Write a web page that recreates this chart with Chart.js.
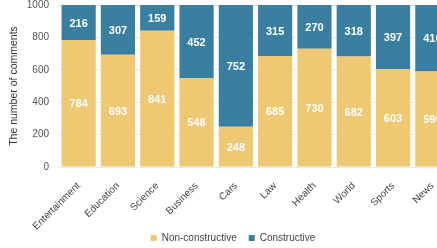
<!DOCTYPE html>
<html>
<head>
<meta charset="utf-8">
<script src="https://cdn.jsdelivr.net/npm/chart.js@4"></script>
<style>
  html, body { margin: 0; padding: 0; background: #fff; overflow: hidden; }
  #wrap { width: 452px; height: 248px; position: relative; }
</style>
</head>
<body>
<div id="wrap"><canvas id="commentChart"></canvas></div>
<script>
const categories = ['Entertainment', 'Education', 'Science', 'Business', 'Cars', 'Law', 'Health', 'World', 'Sports', 'News'];
const nonConstructive = [784, 693, 841, 548, 248, 685, 730, 682, 603, 590];
const constructive = [216, 307, 159, 452, 752, 315, 270, 318, 397, 410];
const yTicks = [0, 200, 400, 600, 800, 1000];

const fontFamily = '"Liberation Sans", Arial, sans-serif';

// draw the numbers inside each bar segment
const segmentLabels = {
    id: 'segmentLabels',
    afterDatasetsDraw(chart) {
        const ctx = chart.ctx;
        ctx.save();
        ctx.fillStyle = '#fff';
        ctx.font = 'bold 11px ' + fontFamily;
        ctx.textAlign = 'center';
        ctx.textBaseline = 'middle';
        chart.data.datasets.forEach((ds, i) => {
            chart.getDatasetMeta(i).data.forEach((bar, j) => {
                const mid = (bar.y + bar.base) / 2;
                ctx.fillText(ds.data[j], bar.x, mid + 1);
            });
        });
        ctx.restore();
    }
};

// nudge the legend a little to the right, like the original
const legendShift = {
    id: 'legendShift',
    afterLayout(chart) {
        chart.legend.left += 7;
        chart.legend.right += 7;
    }
};

const ctx = document.getElementById('commentChart').getContext('2d');
const commentChart = new Chart(ctx, {
    type: 'bar',
    data: {
        labels: categories,
        datasets: [{
            label: 'Non-constructive',
            data: nonConstructive,
            backgroundColor: '#eec872',
            borderWidth: 0,
            categoryPercentage: 0.87,
            barPercentage: 1
        }, {
            label: 'Constructive',
            data: constructive,
            backgroundColor: '#3a7f9f',
            borderWidth: 0,
            categoryPercentage: 0.87,
            barPercentage: 1
        }]
    },
    options: {
        responsive: true,
        maintainAspectRatio: false,
        animation: false,
        layout: { padding: { top: 0, left: 0, right: 0, bottom: -5 } },
        plugins: {
            tooltip: { enabled: false },
            legend: {
                position: 'bottom',
                labels: {
                    boxWidth: 6,
                    boxHeight: 6,
                    padding: 12,
                    color: '#444',
                    font: { size: 10, family: fontFamily }
                }
            }
        },
        scales: {
            x: {
                stacked: true,
                grid: { display: false },
                border: { display: false },
                afterFit: axis => {
                    axis.height = 54;
                    // let the rotated labels run past the axis box instead of being cut
                    axis._computeLabelArea = () => undefined;
                },
                ticks: {
                    color: '#444',
                    padding: 5,
                    maxRotation: 45,
                    minRotation: 45,
                    font: { size: 10, family: fontFamily }
                }
            },
            y: {
                stacked: true,
                min: 0,
                max: 1000,
                afterBuildTicks: axis => { axis.ticks = yTicks.map(v => ({ value: v })); },
                afterFit: axis => { axis.width = 59; axis.paddingTop = 5; axis.paddingBottom = 0; },
                grid: { color: '#e8e8e8', drawTicks: false },
                border: { display: false },
                ticks: {
                    color: '#555',
                    padding: 10,
                    callback: v => String(v),
                    font: { size: 10, family: fontFamily }
                },
                title: {
                    display: true,
                    text: 'The number of comments',
                    color: '#333',
                    padding: { top: 8, bottom: 0 },
                    font: { size: 10.5, family: fontFamily }
                }
            }
        }
    },
    plugins: [segmentLabels, legendShift]
});
</script>
</body>
</html>
